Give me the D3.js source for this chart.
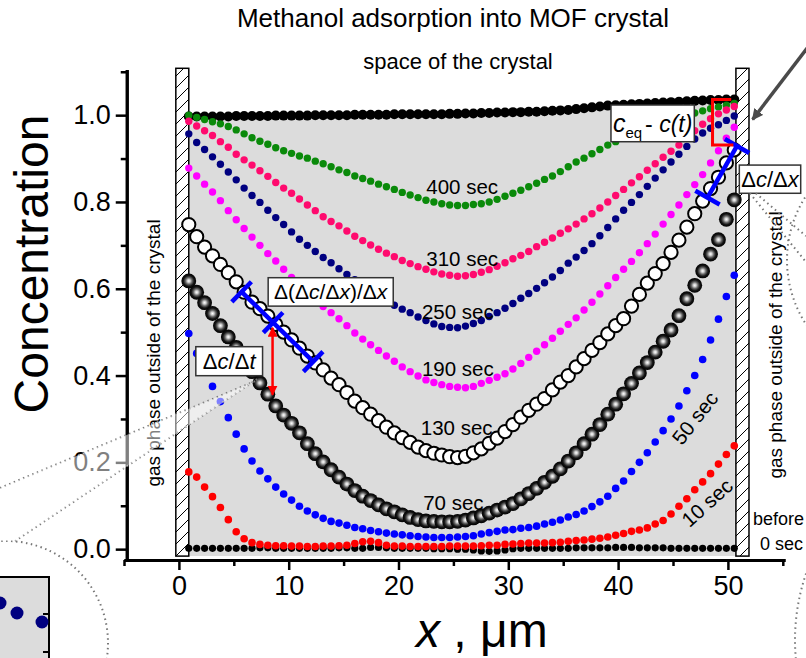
<!DOCTYPE html>
<html>
<head>
<meta charset="utf-8">
<script src="https://cdn.jsdelivr.net/npm/d3@7/dist/d3.min.js"></script>
<style>
body { margin: 0; background: #fff; }
text { font-family: "Liberation Sans", Arial, sans-serif; fill: #000; }
.axis path, .axis line { stroke: #000; }
</style>
</head>
<body>
<script>
// positions across the crystal (um), same grid for every profile
var xGrid = d3.range(70).map(function(i) { return 0.9 + i * 0.72; });

// concentration profiles
var cFinal = [0.997,0.997,0.997,0.997,0.997,0.997,0.998, 0.998,0.998,0.998,0.998,0.999,0.999,0.999,
  0.999,0.999,1.000,1.000,1.000,1.000,1.000, 1.001,1.001,1.001,1.001,1.001,1.002,1.002,
  1.002,1.002,1.002,1.002,1.002,1.003,1.003, 1.004,1.004,1.005,1.005,1.006,1.006,1.007,
  1.007,1.008,1.008,1.009,1.010,1.011,1.012, 1.014,1.016,1.018,1.020,1.022,1.023,1.024,
  1.025,1.026,1.027,1.028,1.029,1.030,1.031, 1.032,1.033,1.034,1.035,1.035,1.036,1.036];
var c400 = [1.000,0.995,0.990,0.985,0.980,0.974,0.966, 0.957,0.948,0.940,0.933,0.925,0.918,0.912,
  0.906,0.901,0.894,0.888,0.881,0.874,0.868, 0.860,0.854,0.848,0.841,0.835,0.829,0.822,
  0.816,0.810,0.804,0.800,0.796,0.793,0.792, 0.792,0.794,0.796,0.800,0.806,0.813,0.820,
  0.827,0.835,0.843,0.852,0.860,0.870,0.881, 0.892,0.901,0.911,0.921,0.931,0.939,0.947,
  0.955,0.962,0.969,0.976,0.982,0.988,0.994, 1.000,1.005,1.010,1.015,1.019,1.023,1.027];
var c310 = [0.986,0.975,0.964,0.953,0.939,0.926,0.910, 0.897,0.885,0.872,0.859,0.845,0.832,0.820,
  0.807,0.793,0.780,0.766,0.755,0.745,0.733, 0.721,0.711,0.701,0.691,0.682,0.674,0.665,
  0.658,0.651,0.645,0.639,0.634,0.631,0.629, 0.630,0.633,0.638,0.644,0.652,0.660,0.669,
  0.677,0.686,0.697,0.707,0.717,0.728,0.738, 0.749,0.761,0.773,0.786,0.800,0.815,0.829,
  0.844,0.858,0.873,0.888,0.903,0.917,0.931, 0.948,0.964,0.979,0.992,1.003,1.012,1.020];
var c250 = [0.957,0.937,0.921,0.904,0.887,0.869,0.851, 0.832,0.815,0.799,0.781,0.764,0.748,0.731,
  0.714,0.700,0.686,0.672,0.660,0.646,0.633, 0.621,0.609,0.597,0.585,0.573,0.562,0.553,
  0.545,0.535,0.527,0.519,0.513,0.511,0.510, 0.514,0.520,0.527,0.536,0.545,0.555,0.566,
  0.578,0.589,0.601,0.614,0.627,0.642,0.659, 0.673,0.688,0.704,0.722,0.741,0.761,0.781,
  0.799,0.817,0.836,0.855,0.874,0.892,0.910, 0.928,0.945,0.959,0.970,0.978,0.988,0.998];
var c190 = [0.878,0.860,0.841,0.823,0.803,0.780,0.759, 0.739,0.719,0.700,0.681,0.664,0.645,0.626,
  0.607,0.590,0.575,0.559,0.545,0.531,0.515, 0.498,0.484,0.471,0.458,0.445,0.433,0.420,
  0.409,0.399,0.390,0.384,0.379,0.375,0.373, 0.372,0.375,0.382,0.389,0.396,0.404,0.415,
  0.428,0.442,0.456,0.471,0.486,0.502,0.518, 0.533,0.551,0.569,0.588,0.607,0.626,0.645,
  0.663,0.683,0.704,0.726,0.749,0.771,0.793, 0.817,0.840,0.863,0.890,0.918,0.947,0.972];
var c130 = [0.748,0.720,0.696,0.676,0.656,0.637,0.616, 0.592,0.569,0.554,0.537,0.518,0.500,0.482,
  0.463,0.445,0.429,0.413,0.394,0.379,0.361, 0.341,0.326,0.311,0.296,0.281,0.268,0.257,
  0.246,0.235,0.227,0.221,0.217,0.213,0.211, 0.214,0.222,0.231,0.244,0.256,0.271,0.287,
  0.304,0.320,0.334,0.347,0.367,0.385,0.400, 0.420,0.439,0.458,0.476,0.496,0.515,0.531,
  0.560,0.587,0.613,0.635,0.658,0.684,0.712, 0.742,0.773,0.802,0.831,0.857,0.890,0.920];
var c70 = [0.618,0.592,0.568,0.543,0.515,0.489,0.465, 0.438,0.409,0.383,0.357,0.330,0.309,0.290,
  0.268,0.243,0.220,0.201,0.183,0.166,0.150, 0.135,0.122,0.112,0.102,0.093,0.086,0.079,
  0.073,0.068,0.065,0.064,0.063,0.063,0.064, 0.067,0.072,0.077,0.083,0.090,0.097,0.105,
  0.116,0.128,0.140,0.154,0.168,0.185,0.203, 0.222,0.243,0.265,0.287,0.311,0.334,0.358,
  0.382,0.406,0.430,0.454,0.479,0.505,0.538, 0.577,0.608,0.641,0.680,0.713,0.760,0.805];
var c50 = [0.497,0.451,0.412,0.375,0.340,0.303,0.265, 0.231,0.203,0.180,0.162,0.143,0.127,0.113,
  0.099,0.088,0.079,0.071,0.064,0.060,0.055, 0.050,0.047,0.043,0.040,0.037,0.035,0.033,
  0.031,0.029,0.028,0.027,0.027,0.027,0.028, 0.029,0.031,0.035,0.038,0.041,0.044,0.045,
  0.048,0.050,0.053,0.058,0.062,0.067,0.074, 0.080,0.088,0.098,0.109,0.122,0.140,0.157,
  0.179,0.200,0.222,0.247,0.273,0.300,0.330, 0.365,0.400,0.437,0.482,0.530,0.582,0.631];
var c10 = [0.178,0.166,0.143,0.121,0.096,0.068,0.040, 0.024,0.015,0.011,0.009,0.008,0.008,0.007,
  0.007,0.006,0.006,0.007,0.007,0.008,0.009, 0.013,0.017,0.018,0.015,0.009,0.007,0.007,
  0.006,0.006,0.006,0.006,0.006,0.007,0.007, 0.007,0.007,0.008,0.009,0.009,0.011,0.012,
  0.013,0.014,0.014,0.014,0.015,0.016,0.018, 0.020,0.021,0.023,0.025,0.028,0.032,0.036,
  0.041,0.044,0.049,0.058,0.066,0.081,0.099, 0.116,0.137,0.155,0.174,0.196,0.218,0.238];
var c0 = [0.002,0.002,0.002,0.002,0.002,0.002,0.002, 0.002,0.002,0.003,0.003,0.002,0.002,0.002,
  0.002,0.002,0.002,0.002,0.002,0.003,0.003, 0.002,0.002,0.004,0.004,0.003,0.002,0.002,
  0.002,0.002,0.002,0.001,0.001,0.001,0.000, 0.000,-0.002,-0.004,-0.005,-0.004,-0.002,0.001,
  0.002,0.002,0.002,0.002,0.002,0.002,0.002, 0.003,0.003,0.003,0.003,0.003,0.004,0.004,
  0.004,0.003,0.003,0.003,0.003,0.002,0.002, 0.002,0.002,0.002,0.002,0.002,0.002,0.002];

var timeLabels = ["400 sec", "310 sec", "250 sec", "190 sec", "130 sec", "70 sec", "50 sec", "10 sec"];
var xTicks = [0, 10, 20, 30, 40, 50];
var xMinor = [-5, 5, 15, 25, 35, 45, 55];
var yTicks = [0, 0.2, 0.4, 0.6, 0.8, 1.0];
var yMinor = [0.1, 0.3, 0.5, 0.7, 0.9, 1.1];

var W = 806, H = 658;
var svg = d3.select("body").append("svg").attr("width", W).attr("height", H);
var defs = svg.append("defs");

var x = d3.scaleLinear().domain([-5, 55.2]).range([124, 785]);
var y = d3.scaleLinear().domain([-0.025, 1.105]).range([560, 69.6]);

// sphere look for the 70 sec profile
var g1 = defs.append("radialGradient").attr("id", "sph").attr("cx", "50%").attr("cy", "50%").attr("r", "50%");
g1.append("stop").attr("offset", 0).attr("stop-color", "#ffffff");
g1.append("stop").attr("offset", 0.2).attr("stop-color", "#cfcfcf");
g1.append("stop").attr("offset", 0.45).attr("stop-color", "#666");
g1.append("stop").attr("offset", 0.72).attr("stop-color", "#141414");
g1.append("stop").attr("offset", 1).attr("stop-color", "#000");

var hatch = defs.append("pattern").attr("id", "hatch").attr("patternUnits", "userSpaceOnUse")
  .attr("width", 12).attr("height", 12);
hatch.append("rect").attr("width", 12).attr("height", 12).attr("fill", "#fff");
hatch.append("path").attr("d", "M-2,14 L14,-2 M-2,2 L2,-2 M10,14 L14,10")
  .attr("stroke", "#000").attr("stroke-width", 1);

var arrowDefs = [["redhead", "#ff0000", 4], ["grayhead", "#4a4a4a", 3.2]];
arrowDefs.forEach(function(a) {
  defs.append("marker").attr("id", a[0]).attr("viewBox", "0 0 10 10").attr("refX", 9).attr("refY", 5)
    .attr("markerWidth", a[2]).attr("markerHeight", a[2]).attr("orient", "auto-start-reverse")
    .attr("markerUnits", "strokeWidth")
    .append("path").attr("d", "M0,0 L10,5 L0,10 z").attr("fill", a[1]);
});

// crystal space (gray) under the final profile
var lastX = 50.73, bottomC = -0.016;
var area = d3.area()
  .x(function(d, i) { return x(xGrid[i]); })
  .y0(y(bottomC))
  .y1(function(d) { return y(d); });
svg.append("path").datum(cFinal).attr("d", area).attr("fill", "#dcdcdc");
svg.append("rect").attr("x", x(xGrid[69])).attr("y", y(cFinal[69]))
  .attr("width", x(lastX) - x(xGrid[69])).attr("height", y(bottomC) - y(cFinal[69])).attr("fill", "#dcdcdc");

// hatched walls
[[-0.28, 0.9], [lastX, 51.92]].forEach(function(w) {
  svg.append("rect").attr("x", x(w[0])).attr("y", y(1.108))
    .attr("width", x(w[1]) - x(w[0])).attr("height", y(bottomC) - y(1.108))
    .attr("fill", "url(#hatch)").attr("stroke", "#000").attr("stroke-width", 1.5);
});

// profiles
var series = [
  { v: c0, kind: "dot", color: "#000", r: 3.6 },
  { v: c10, kind: "dot", color: "#ff0000", r: 3.8 },
  { v: cFinal, kind: "dot", color: "#000", r: 5 },
  { v: c400, kind: "dot", color: "#0a8a0a", r: 3.7 },
  { v: c310, kind: "dot", color: "#ff0a6e", r: 3.7 },
  { v: c250, kind: "dot", color: "#000080", r: 3.7 },
  { v: c190, kind: "dot", color: "#ff00ff", r: 3.7 },
  { v: c50, kind: "dot", color: "#0000ff", r: 3.8 },
  { v: c70, kind: "sphere", r: 7.4 },
  { v: c130, kind: "open", r: 6.6 }
];
series.forEach(function(s) {
  var sel = svg.append("g").selectAll("circle").data(s.v).enter().append("circle")
    .attr("cx", function(d, i) { return x(xGrid[i]); })
    .attr("cy", function(d) { return y(d); })
    .attr("r", s.r);
  if (s.kind === "dot") sel.attr("fill", s.color);
  else if (s.kind === "sphere") sel.attr("fill", "url(#sph)");
  else sel.attr("fill", "#fff").attr("stroke", "#000").attr("stroke-width", 2);
});

// axes
svg.append("g").attr("class", "axis").attr("transform", "translate(0," + y(-0.025) + ")")
  .call(d3.axisBottom(x).tickValues(xTicks).tickSize(10).tickSizeOuter(0).tickPadding(6).tickFormat(d3.format("d")));
svg.append("g").attr("class", "axis").attr("transform", "translate(0," + y(-0.025) + ")")
  .call(d3.axisBottom(x).tickValues(xMinor).tickSize(6).tickSizeOuter(0).tickFormat(""));
svg.append("g").attr("class", "axis").attr("transform", "translate(" + x(-4.75) + ",0)")
  .call(d3.axisLeft(y).tickValues(yTicks).tickSize(11).tickSizeOuter(0).tickPadding(5).tickFormat(d3.format(".1f")));
svg.append("g").attr("class", "axis").attr("transform", "translate(" + x(-4.75) + ",0)")
  .call(d3.axisLeft(y).tickValues(yMinor).tickSize(6).tickSizeOuter(0).tickFormat(""));
svg.selectAll(".axis path").attr("stroke-width", 3);
svg.selectAll(".axis line").attr("stroke-width", 2.5);
svg.selectAll(".axis text").style("font-size", "27px").style("font-family", "Liberation Sans, Arial, sans-serif");

// titles and axis labels
svg.append("text").attr("x", 453).attr("y", 27).attr("text-anchor", "middle").style("font-size", "26px")
  .text("Methanol adsorption into MOF crystal");
svg.append("text").attr("x", 458).attr("y", 69).attr("text-anchor", "middle").style("font-size", "22px")
  .text("space of the crystal");
svg.append("text").attr("transform", "translate(48,264) rotate(-90)").attr("text-anchor", "middle")
  .style("font-size", "48px").text("Concentration");
var xl = svg.append("text").attr("x", 416).attr("y", 647).style("font-size", "48px");
xl.append("tspan").style("font-style", "italic").text("x");
xl.append("tspan").text(" , \u03bcm");

svg.append("text").attr("transform", "translate(160,353) rotate(-90)").attr("text-anchor", "middle")
  .style("font-size", "19px").text("gas phase outside of the crystal");
svg.append("text").attr("transform", "translate(782,345) rotate(-90)").attr("text-anchor", "middle")
  .style("font-size", "19px").text("gas phase outside of the crystal");
svg.append("text").attr("x", 753).attr("y", 525).style("font-size", "18px").text("before");
svg.append("text").attr("x", 760).attr("y", 550).style("font-size", "18px").text("0 sec");

// time labels on the profiles
var labelPos = [[25.8, 0.834, 0], [25.8, 0.669, 0], [25.4, 0.546, 0], [25.4, 0.416, 0],
  [25.3, 0.279, 0], [25.0, 0.107, 0], [47.0, 0.302, -52], [48.1, 0.107, -42]];
timeLabels.forEach(function(t, i) {
  var p = labelPos[i];
  svg.append("text").attr("transform", "translate(" + x(p[0]) + "," + y(p[1]) + ") rotate(" + p[2] + ")")
    .attr("text-anchor", "middle").attr("dy", "0.35em").style("font-size", "20.5px").text(t);
});

// blue gradient bars with caps
function capBar(x0, c0_, x1, c1, mid) {
  var ax = x(x0), ay = y(c0_), bx = x(x1), by = y(c1);
  var dx = bx - ax, dy = by - ay, L = Math.sqrt(dx * dx + dy * dy);
  var nx = -dy / L * 14, ny = dx / L * 14;
  var g = svg.append("g").attr("stroke", "#0000ff").attr("stroke-width", 4.5).attr("stroke-linecap", "butt");
  g.append("line").attr("x1", ax).attr("y1", ay).attr("x2", bx).attr("y2", by);
  g.append("line").attr("x1", ax - nx).attr("y1", ay - ny).attr("x2", ax + nx).attr("y2", ay + ny);
  g.append("line").attr("x1", bx - nx).attr("y1", by - ny).attr("x2", bx + nx).attr("y2", by + ny);
  if (mid !== undefined) {
    var mx = ax + dx * mid, my = ay + dy * mid;
    g.append("line").attr("x1", mx - nx).attr("y1", my - ny).attr("x2", mx + nx).attr("y2", my + ny);
  }
}
capBar(5.71, 0.593, 12.23, 0.432, 0.44);
capBar(50.83, 0.929, 48.14, 0.810);

// red double arrow (dc/dt)
svg.append("line").attr("x1", x(8.53)).attr("y1", y(0.51)).attr("x2", x(8.53)).attr("y2", y(0.356))
  .attr("stroke", "#ff0000").attr("stroke-width", 2.5)
  .attr("marker-start", "url(#redhead)").attr("marker-end", "url(#redhead)");

// red bracket c_eq - c(t)
svg.append("path").attr("d", "M" + x(50.3) + "," + y(1.036) + " H" + x(48.6) + " V" + y(0.931) + " H" + x(50.5))
  .attr("fill", "none").attr("stroke", "#ff0000").attr("stroke-width", 3);

// gray arrow to the right surface
svg.append("line").attr("x1", x(57.3)).attr("y1", y(1.157)).attr("x2", x(52.25)).attr("y2", y(0.99))
  .attr("stroke", "#4a4a4a").attr("stroke-width", 3.5).attr("marker-end", "url(#grayhead)");

// annotation boxes
function box(x0, c0_, x1, c1) {
  svg.append("rect").attr("x", x(x0)).attr("y", y(c0_)).attr("width", x(x1) - x(x0)).attr("height", y(c1) - y(c0_))
    .attr("fill", "#fff").attr("stroke", "#333").attr("stroke-width", 1.5);
}
function mathText(px, py, size, parts) {
  var t = svg.append("text").attr("x", px).attr("y", py).attr("text-anchor", "middle").style("font-size", size + "px");
  parts.forEach(function(p) {
    t.append("tspan").style("font-style", p[1] ? "italic" : "normal").text(p[0]);
  });
  return t;
}
box(8.13, 0.6255, 19.52, 0.560);
mathText((x(8.13) + x(19.52)) / 2, 299, 21, [["\u0394(\u0394", 0], ["c", 1], ["/\u0394", 0], ["x", 1], [")/\u0394", 0], ["x", 1]]);
box(1.54, 0.4665, 7.62, 0.3997);
mathText((x(1.54) + x(7.62)) / 2, 369, 22, [["\u0394", 0], ["c", 1], ["/\u0394", 0], ["t", 1]]);
box(51.04, 0.885, 56.63, 0.820);
mathText((x(51.04) + x(56.63)) / 2, 187, 22, [["\u0394", 0], ["c", 1], ["/\u0394", 0], ["x", 1]]);
box(39.35, 1.0234, 46.94, 0.9388);
var ceq = svg.append("text").attr("x", (x(39.35) + x(46.94)) / 2).attr("y", 132).attr("text-anchor", "middle").style("font-size", "25px");
ceq.append("tspan").style("font-style", "italic").text("c");
ceq.append("tspan").attr("dy", 6).style("font-size", "15px").text("eq");
ceq.append("tspan").attr("dy", -6).attr("dx", 3).style("font-size", "23px").text("- ");
ceq.append("tspan").style("font-size", "23px").style("font-style", "italic").text("c(t)");

// magnifier callouts (dotted)
var callout = svg.append("g").attr("fill", "none").attr("stroke", "#777").attr("stroke-width", 2).attr("stroke-dasharray", "1.5,3.5");
var sp = [x(6.93), y(0.387)];
svg.append("path").attr("d", "M" + sp[0] + "," + sp[1] + " L0,488 L0,541 L15,541 Z")
  .attr("fill", "#fff").attr("fill-opacity", 0.5);
callout.append("line").attr("x1", sp[0]).attr("y1", sp[1]).attr("x2", 0).attr("y2", 488);
callout.append("line").attr("x1", sp[0] + 2).attr("y1", sp[1] - 2).attr("x2", 15).attr("y2", 541);
callout.append("circle").attr("cx", 6).attr("cy", 643).attr("r", 102);

// corner inset (zoomed navy dots)
var inset = svg.append("g");
inset.append("rect").attr("x", -2).attr("y", 577).attr("width", 51).attr("height", 90).attr("fill", "#dcdcdc")
  .attr("stroke", "#000").attr("stroke-width", 2);
var insetDots = [[0, 603], [17, 613], [42, 622]];
insetDots.forEach(function(d) {
  inset.append("circle").attr("cx", d[0]).attr("cy", d[1]).attr("r", 6.5).attr("fill", "#000080");
});
[614, 652].forEach(function(v) {
  inset.append("line").attr("x1", 43).attr("x2", 49).attr("y1", v).attr("y2", v).attr("stroke", "#000").attr("stroke-width", 2);
});

// right-hand callout lines
var rp = [x(52.0), y(0.82)];
callout.append("line").attr("x1", rp[0]).attr("y1", rp[1]).attr("x2", 806).attr("y2", 262);
callout.append("line").attr("x1", rp[0] + 6).attr("y1", rp[1]).attr("x2", 806).attr("y2", 236);
callout.append("circle").attr("cx", 905).attr("cy", 260).attr("r", 118);
callout.append("circle").attr("cx", 1000).attr("cy", 640).attr("r", 205);
</script>
</body>
</html>
